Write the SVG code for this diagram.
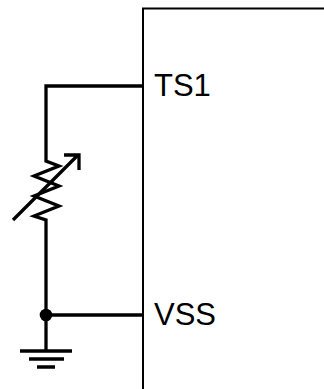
<svg xmlns="http://www.w3.org/2000/svg" width="324" height="389" viewBox="0 0 324 389">
<style>
.w{fill:none;stroke:#000;stroke-width:3.3;stroke-linejoin:miter}
.t{font-family:"Liberation Sans",Arial,sans-serif;font-size:31px;fill:#000}
</style>
<rect width="324" height="389" fill="#fff"/>
<g id="chip"><path d="M143 389V8.500H324" fill="none" stroke="#000" stroke-width="2"/></g>
<g id="pin-ts1"><text class="t" x="154" y="96">TS1</text></g>
<g id="pin-vss"><text class="t" x="154" y="324.500">VSS</text></g>
<g id="connectors">
<path class="w" d="M143 86H46V161L59 166L34 176L59 186L34 196L59 206L34 216L46 220V315"/>
<path class="w" d="M143 315H46V351"/>
</g>
<g id="arrow"><path class="w" d="M13 220L78 155M64 155H79V170"/></g>
<g id="junction"><circle cx="46" cy="315" r="6.300" fill="#000"/></g>
<g id="ground"><path class="w" d="M20 351H72M29 359H64M37 367H55"/></g>
</svg>
